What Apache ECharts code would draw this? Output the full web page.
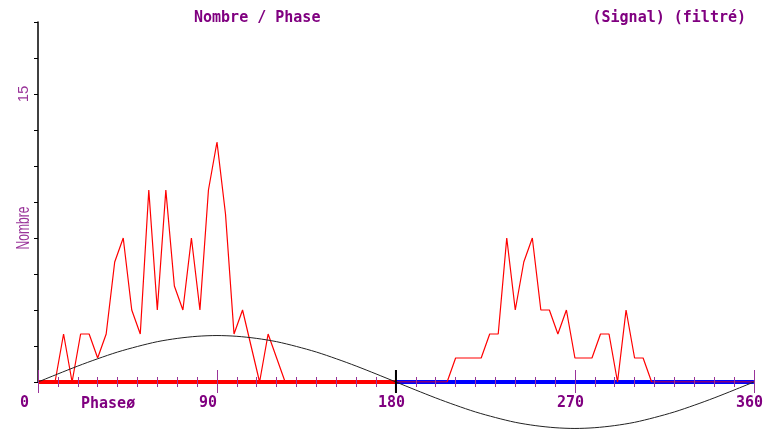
<!DOCTYPE html>
<html>
<head>
<meta charset="utf-8">
<script src="https://cdn.jsdelivr.net/npm/echarts@6/dist/echarts.min.js"></script>
<style>
  html, body { margin: 0; padding: 0; background: #fff; }
  #chart { width: 766px; height: 429px; }
</style>
</head>
<body>
<div id="chart"></div>
<script>
// nombre par bin de phase (85 points, 0..360)
const nombre = [
  0, 0, 0, 2.5, 0, 2.5, 2.5, 1.25, 2.5, 6.25,
  7.5, 3.75, 2.5, 10, 3.75, 10, 5, 3.75, 7.5, 3.75,
  10, 12.5, 8.75, 2.5, 3.75, 1.875, 0, 2.5, 1.25, 0,
  0, 0, 0, 0, 0, 0, 0, 0, 0, 0,
  0, 0, 0, 0, 0, 0, 0, 0, 0, 1.25,
  1.25, 1.25, 1.25, 2.5, 2.5, 7.5, 3.75, 6.25, 7.5, 3.75,
  3.75, 2.5, 3.75, 1.25, 1.25, 1.25, 2.5, 2.5, 0, 3.75,
  1.25, 1.25, 0, 0, 0, 0, 0, 0, 0, 0,
  0, 0, 0, 0, 0
];
// courbe ajustee (signal filtre)
const sinusPhase = [0, 10, 20, 30, 40, 50, 60, 70, 80, 90, 100, 110, 120, 130, 140, 150, 160, 170, 180,
  190, 200, 210, 220, 230, 240, 250, 260, 270, 280, 290, 300, 310, 320, 330, 340, 350, 360];
const sinus = [0, 0.42, 0.83, 1.21, 1.56, 1.85, 2.10, 2.27, 2.38, 2.42, 2.38, 2.27, 2.10, 1.85, 1.56, 1.21, 0.83, 0.42, 0,
  -0.42, -0.83, -1.21, -1.56, -1.85, -2.10, -2.27, -2.38, -2.42, -2.38, -2.27, -2.10, -1.85, -1.56, -1.21, -0.83, -0.42, 0];
const xLabels = [0, 90, 180, 270, 360];
const yLabels = [15];
const zoneRouge = [0, 180];
const zoneBleue = [180, 360];
const marqueMilieu = [180];

const violet = '#800080';
const violetClair = '#993399';
const mono = '"DejaVu Sans Mono", "Liberation Mono", monospace';
const sans = '"Liberation Sans", sans-serif';

const pas = 360 / (nombre.length - 1);
const nombreData = nombre.map((v, i) => [i * pas, v]);

var myChart = echarts.init(document.getElementById('chart'));
var option = {
  animation: false,
  title: [
    {
      text: 'Nombre / Phase', left: 194, top: 11, padding: 0,
      textStyle: { color: violet, fontFamily: mono, fontWeight: 'bold', fontSize: 15 }
    },
    {
      text: '(Signal) (filtré)', right: 20, top: 11, padding: 0,
      textStyle: { color: violet, fontFamily: mono, fontWeight: 'bold', fontSize: 15 }
    }
  ],
  grid: { left: 38, right: 10, top: 22, bottom: 47, containLabel: false },
  xAxis: [
    {
      type: 'value', min: 0, max: 360, interval: 90, z: 5,
      axisLine: { show: false },
      splitLine: { show: false },
      axisTick: { show: true, length: 11, lineStyle: { color: violetClair, width: 1 } },
      minorTick: { show: true, splitNumber: 9, length: 5, lineStyle: { color: violetClair, width: 1 } },
      axisLabel: {
        margin: 14, align: 'left', padding: [0, 0, 0, -18],
        color: violet, fontFamily: mono, fontWeight: 'bold', fontSize: 15,
        formatter: v => xLabels.includes(v) ? String(v) : ''
      }
    },
    {
      type: 'value', min: 0, max: 360, interval: 90, z: 5, position: 'bottom',
      axisLine: { show: false },
      splitLine: { show: false },
      axisLabel: { show: false },
      axisTick: { show: true, inside: true, length: 12, lineStyle: { color: violetClair, width: 1 } },
      minorTick: { show: true, splitNumber: 9, length: 5, lineStyle: { color: violetClair, width: 1 } }
    }
  ],
  yAxis: {
    type: 'value', min: 0, max: 18.75, interval: 1.875,
    axisLine: { show: true, lineStyle: { color: '#000', width: 1.5 } },
    splitLine: { show: false },
    axisTick: { show: true, length: 4, lineStyle: { color: '#000' } },
    axisLabel: {
      rotate: 90, margin: 7,
      color: violetClair, fontFamily: sans, fontSize: 15,
      formatter: v => yLabels.includes(v) ? String(v) : ''
    }
  },
  graphic: [
    {
      type: 'text', x: 24, y: 228, rotation: Math.PI / 2, scaleX: 0.67,
      style: {
        text: 'Nombre', fill: violetClair, font: '18px ' + sans,
        align: 'center', verticalAlign: 'middle', textAlign: 'center', textVerticalAlign: 'middle'
      }
    },
    {
      type: 'text', x: 81, y: 404,
      style: {
        text: 'Phaseø', fill: violet, font: 'bold 15px ' + mono,
        align: 'left', verticalAlign: 'middle', textAlign: 'left', textVerticalAlign: 'middle'
      }
    }
  ],
  series: [
    {
      type: 'line', data: zoneRouge.map(x => [x, 0]), symbol: 'none', z: 2,
      lineStyle: { color: '#ff0000', width: 4 }
    },
    {
      type: 'line', data: zoneBleue.map(x => [x, 0]), symbol: 'none', z: 2,
      lineStyle: { color: '#0000ff', width: 4 }
    },
    {
      type: 'line', data: nombreData, symbol: 'none', z: 3,
      lineStyle: { color: '#ff0000', width: 1.2 }
    },
    {
      type: 'line', data: sinusPhase.map((p, i) => [p, sinus[i]]), symbol: 'none', smooth: 0.3, clip: false, z: 4,
      lineStyle: { color: '#222', width: 1 }
    },
    {
      // repere noir a 180
      type: 'custom', z: 20, clip: false,
      data: marqueMilieu.map(x => [x, 0]),
      renderItem: function (params, api) {
        var p = api.coord([api.value(0), api.value(1)]);
        return {
          type: 'rect',
          shape: { x: p[0] - 1, y: p[1] - 12, width: 2, height: 23 },
          style: { fill: '#000' }
        };
      }
    }
  ]
};
option && myChart.setOption(option);
</script>
</body>
</html>
